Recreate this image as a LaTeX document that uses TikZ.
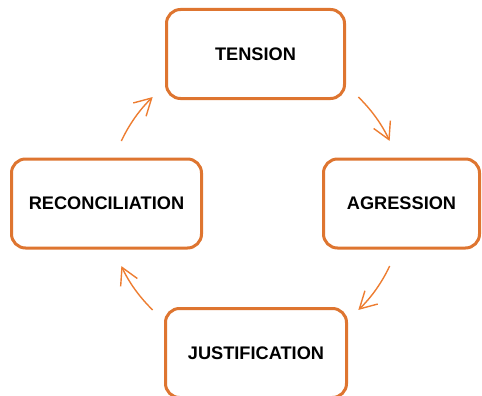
\documentclass[tikz,border=0pt]{standalone}
\usepackage{fontspec}
\setmainfont{Liberation Sans}
\usetikzlibrary{arrows.meta}

\definecolor{boxorange}{RGB}{222,117,48}
\definecolor{arroworange}{RGB}{237,125,49}

\tikzset{
  stage/.style={draw=boxorange,line width=3pt,rounded corners=14pt,fill=white,
    minimum height=89pt,font=\fontsize{18.2}{20}\selectfont\bfseries},
  cyclearrow/.style={arroworange,line width=1.4pt,-{Straight Barb[angle=58:19pt]}}
}

\begin{document}
\begin{tikzpicture}[x=1pt,y=1pt]
\useasboundingbox (0,0) rectangle (482,-396);

\begin{scope}
\coordinate (m) at (255.5,-203.5);
\coordinate (r1) at ([shift={(155:148pt)}]m);
\coordinate (r2) at ([shift={(46:148pt)}]m);
\coordinate (r3) at ([shift={(-25:148pt)}]m);
\coordinate (r4) at ([shift={(-134:148pt)}]m);

\node[stage,minimum width=178pt] (tension) at (255.5,-54) {TENSION};
\node[stage,minimum width=156pt] (agression) at (401.5,-203.5) {AGRESSION};
\node[stage,minimum width=181pt] (justification) at (256,-353) {JUSTIFICATION};
\node[stage,minimum width=190pt] (reconciliation) at (106.5,-203.5) {RECONCILIATION};

% arcs round the middle
\draw[cyclearrow] (r1) arc[start angle=155,end angle=134,radius=148pt];
\draw[cyclearrow] (r2) arc[start angle=46,end angle=25,radius=148pt];
\draw[cyclearrow] (r3) arc[start angle=-25,end angle=-46,radius=148pt];
\draw[cyclearrow] (r4) arc[start angle=-134,end angle=-155,radius=148pt];
\end{scope}

\end{tikzpicture}
\end{document}
